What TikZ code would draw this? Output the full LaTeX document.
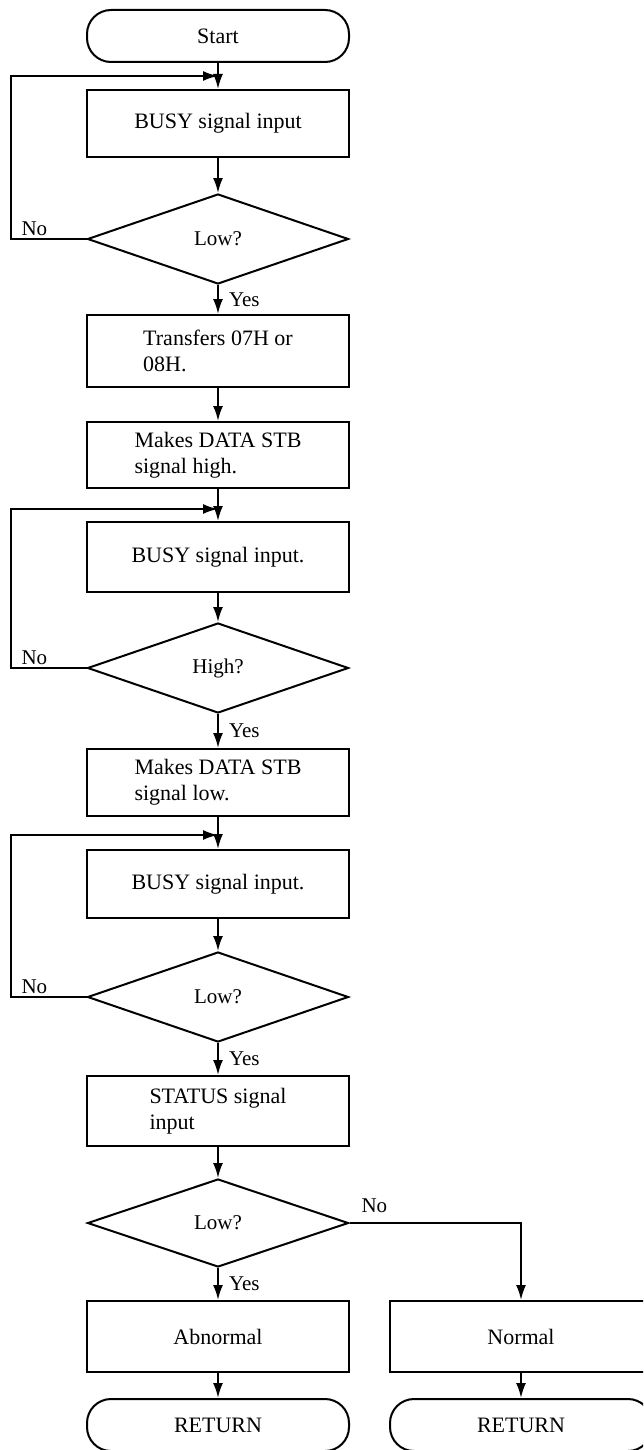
\documentclass[tikz,border=0pt]{standalone}
\usepackage{fontspec}
\setmainfont{Liberation Serif}
\usetikzlibrary{arrows.meta,shapes.geometric}

\begin{document}
\begin{tikzpicture}[x=1pt, y=-1pt, line width=2pt, >={Latex[length=15pt,width=10pt]},
  every node/.style={font=\fontsize{22}{26}\selectfont},
  procbox/.style={draw, rectangle, minimum width=262pt, align=left, inner sep=0pt},
  termbox/.style={draw, rectangle, rounded corners=24pt, minimum width=262pt, minimum height=52pt, inner sep=0pt},
  decbox/.style={draw, diamond, minimum width=261pt, minimum height=90pt, inner sep=0pt, font=\fontsize{21}{25}\selectfont},
  lbl/.style={font=\fontsize{21}{25}\selectfont, inner sep=2pt}]
  \def\cx{218}
  \clip (0,0) rectangle (643,1450);
  % main column
  \node[termbox] (start) at (\cx,36) {Start};
  \node[procbox, minimum height=67pt] (busyA) at (\cx,123.5) {BUSY signal input};
  \node[decbox] (lowA) at (\cx,239) {Low?};
  \node[procbox, minimum height=72pt] (xfer) at (\cx,351) {Transfers 07H or\\08H.};
  \node[procbox, minimum height=66pt] (stbHigh) at (\cx,455) {Makes DATA STB\\signal high.};
  \node[procbox, minimum height=70pt] (busyB) at (\cx,557) {BUSY signal input.};
  \node[decbox] (highQ) at (\cx,668) {High?};
  \node[procbox, minimum height=67pt] (stbLow) at (\cx,782.5) {Makes DATA STB\\signal low.};
  \node[procbox, minimum height=68pt] (busyC) at (\cx,884) {BUSY signal input.};
  \node[decbox] (lowB) at (\cx,997) {Low?};
  \node[procbox, minimum height=70pt] (status) at (\cx,1111) {STATUS signal\\input};
  \node[decbox, minimum height=88pt] (lowC) at (\cx,1223) {Low?};
  \node[procbox, minimum height=71pt] (abnormal) at (\cx,1336.5) {Abnormal};
  \node[termbox] (retA) at (\cx,1425) {RETURN};
  % right branch
  \node[procbox, minimum height=71pt] (normal) at (521,1336.5) {Normal};
  \node[termbox] (retB) at (521,1425) {RETURN};
  % loop joints
  \coordinate (jA) at (\cx,76);
  \coordinate (jB) at (\cx,509);
  \coordinate (jC) at (\cx,835);

  \draw[->] (start) -- (busyA);
  \draw[->] (busyA) -- (lowA);
  \draw[->] (lowA.west) -- ++(-76,0) node[lbl, anchor=south west, xshift=8pt]{No} |- (jA);
  \draw[->] (lowA) -- node[lbl, right, xshift=8pt]{Yes} (xfer);
  \draw[->] (xfer) -- (stbHigh);
  \draw[->] (stbHigh) -- (busyB);
  \draw[->] (busyB) -- (highQ);
  \draw[->] (highQ.west) -- ++(-76,0) node[lbl, anchor=south west, xshift=8pt]{No} |- (jB);
  \draw[->] (highQ) -- node[lbl, right, xshift=8pt]{Yes} (stbLow);
  \draw[->] (stbLow) -- (busyC);
  \draw[->] (busyC) -- (lowB);
  \draw[->] (lowB.west) -- ++(-76,0) node[lbl, anchor=south west, xshift=8pt]{No} |- (jC);
  \draw[->] (lowB) -- node[lbl, right, xshift=8pt]{Yes} (status);
  \draw[->] (status) -- (lowC);
  \draw[->] (lowC) -- node[lbl, right, xshift=8pt]{Yes} (abnormal);
  \draw[->] (lowC.east) node[lbl, anchor=south west, xshift=9pt, yshift=7pt]{No} -| (normal);
  \draw[->] (abnormal) -- (retA);
  \draw[->] (normal) -- (retB);
\end{tikzpicture}
\end{document}
